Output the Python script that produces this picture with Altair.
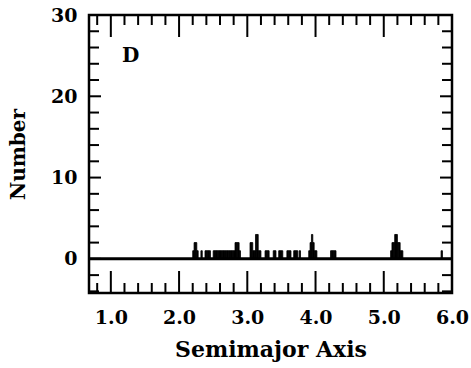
import altair as alt
import pandas as pd

# Histogram bins (bin centre in AU, bin width 0.02) and counts
bin_center = [2.21, 2.23, 2.25, 2.27, 2.33,
              2.39, 2.41, 2.43, 2.45,
              2.51, 2.53, 2.55, 2.57, 2.59, 2.61, 2.63, 2.65, 2.67, 2.69,
              2.71, 2.73, 2.75, 2.77, 2.79, 2.81, 2.83, 2.85, 2.87, 2.89,
              3.05, 3.07, 3.09, 3.11, 3.13, 3.15, 3.17, 3.19,
              3.27, 3.29, 3.31, 3.39, 3.41, 3.47, 3.49, 3.51,
              3.59, 3.61, 3.63, 3.69, 3.71, 3.73, 3.77,
              3.91, 3.93, 3.95, 3.97, 3.99, 4.01,
              4.23, 4.25, 4.27, 4.29,
              5.11, 5.13, 5.15, 5.17, 5.19, 5.21, 5.23, 5.25, 5.27,
              5.85]
counts = [1, 2, 2, 1, 1,
          1, 1, 1, 1,
          1, 1, 1, 1, 1, 1, 1, 1, 1, 1,
          1, 1, 1, 1, 1, 1, 2, 2, 2, 1,
          2, 2, 1, 1, 3, 3, 1, 1,
          1, 1, 1, 1, 1, 1, 1, 1,
          1, 1, 1, 1, 1, 1, 1,
          1, 2, 3, 2, 1, 1,
          1, 1, 1, 1,
          1, 2, 2, 3, 3, 2, 2, 1, 1,
          1]
bin_width = 0.02

x_major = [1.0, 2.0, 3.0, 4.0, 5.0, 6.0]
x_minor = [round(0.8 + 0.2 * i, 1) for i in range(26)]
x_minor = [v for v in x_minor if all(abs(v - m) > 1e-6 for m in x_major)]
y_major = [0, 10, 20, 30]
y_minor = [v for v in range(-4, 30, 2) if v not in y_major]

panel_label = "D"
panel_label_x = 1.29
panel_label_y = 25.0

X_DOMAIN = [0.68, 6.0]
Y_DOMAIN = [-4.2, 30]
W, H = 363, 278
FONT = "DejaVu Serif"

bars = pd.DataFrame({
    "a0": [c - bin_width / 2 for c in bin_center],
    "a1": [c + bin_width / 2 for c in bin_center],
    "n": counts,
})

xs = alt.Scale(domain=X_DOMAIN, nice=False, zero=False)
ys = alt.Scale(domain=Y_DOMAIN, nice=False, zero=False)

xaxis = alt.Axis(values=x_major, format=".1f", ticks=False, domain=False, grid=False,
                 labelFont=FONT, labelFontSize=19, labelFontWeight="bold", labelColor="black",
                 labelPadding=15, labelFlush=False,
                 title="Semimajor Axis", titleFont=FONT, titleFontSize=22,
                 titleFontWeight="bold", titleColor="black", titlePadding=12)
yaxis = alt.Axis(values=y_major, format="d", ticks=False, domain=False, grid=False,
                 labelFont=FONT, labelFontSize=19, labelFontWeight="bold", labelColor="black",
                 labelPadding=12, labelFlush=False,
                 title="Number", titleFont=FONT, titleFontSize=20,
                 titleFontWeight="bold", titleColor="black", titlePadding=22)

hist = alt.Chart(bars).mark_rect(color="black", stroke="black", strokeWidth=0.8).encode(
    x=alt.X("a0:Q", scale=xs, axis=xaxis),
    x2="a1:Q",
    y=alt.Y("n:Q", scale=ys, axis=yaxis),
    y2=alt.datum(0),
)

baseline = alt.Chart(pd.DataFrame({"y": [0]})).mark_rule(color="black", strokeWidth=3).encode(
    y=alt.Y("y:Q", scale=ys),
    x=alt.value(0), x2=alt.value(W),
)

xmaj = pd.DataFrame({"v": x_major})
xmin = pd.DataFrame({"v": x_minor})
ymaj = pd.DataFrame({"v": y_major})
ymin = pd.DataFrame({"v": y_minor})

def xticks(df, length):
    bot = alt.Chart(df).mark_rule(color="black", strokeWidth=2).encode(
        x=alt.X("v:Q", scale=xs), y=alt.value(H), y2=alt.value(H - length))
    top = alt.Chart(df).mark_rule(color="black", strokeWidth=2).encode(
        x=alt.X("v:Q", scale=xs), y=alt.value(0), y2=alt.value(length))
    return [bot, top]

def yticks(df, length):
    left = alt.Chart(df).mark_rule(color="black", strokeWidth=2).encode(
        y=alt.Y("v:Q", scale=ys), x=alt.value(0), x2=alt.value(length))
    right = alt.Chart(df).mark_rule(color="black", strokeWidth=2).encode(
        y=alt.Y("v:Q", scale=ys), x=alt.value(W), x2=alt.value(W - length))
    return [left, right]

label = alt.Chart(pd.DataFrame({"x": [panel_label_x], "y": [panel_label_y], "t": [panel_label]})).mark_text(
    font=FONT, fontSize=20, fontWeight="bold", color="black", align="center", baseline="middle"
).encode(x=alt.X("x:Q", scale=xs), y=alt.Y("y:Q", scale=ys), text="t:N")

layers = [hist, baseline] + xticks(xmaj, 22) + xticks(xmin, 10) + yticks(ymaj, 12) + yticks(ymin, 10) + [label]

chart = alt.layer(*layers).properties(
    width=W, height=H,
    autosize=alt.AutoSizeParams(type="none"),
    padding={"left": 89, "top": 15, "right": 19, "bottom": 75},
    background="white",
).configure_view(stroke="black", strokeWidth=2.5)

chart.save("out.html", embed_options={"renderer": "svg", "actions": False})
